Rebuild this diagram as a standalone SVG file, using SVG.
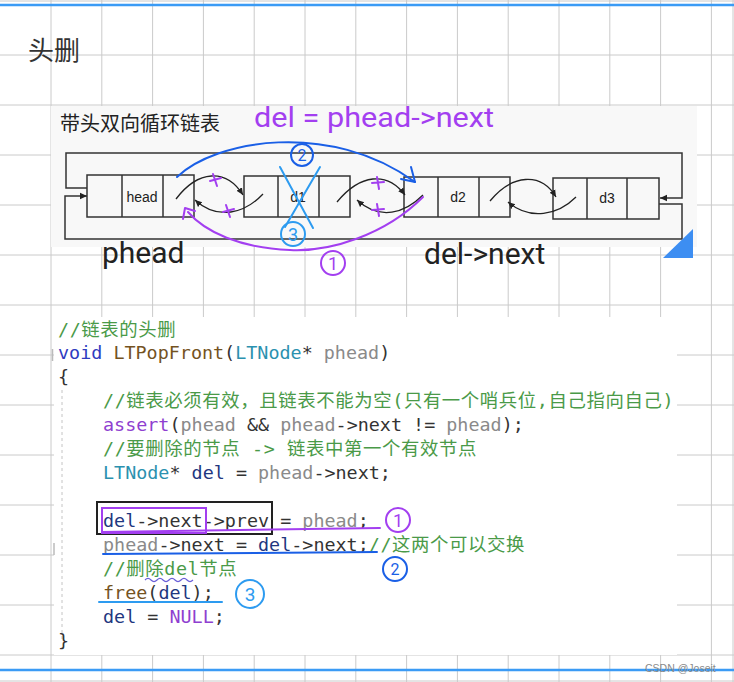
<svg xmlns="http://www.w3.org/2000/svg" width="734" height="682" viewBox="0 0 734 682">
<style>
.grid{stroke:#cacaca;stroke-width:1;fill:none}
.box{fill:none;stroke:#333;stroke-width:1.5}
.lbl{font-family:"Liberation Sans",Arial,sans-serif;font-size:14px;fill:#222;text-anchor:middle}
.link{fill:none;stroke:#222;stroke-width:1.3}
.loop{fill:none;stroke:#333;stroke-width:1.5}
.pur{stroke:#a33ff0;stroke-width:2;fill:none;stroke-linecap:round;stroke-linejoin:round}
.blu{stroke:#1a5fe6;stroke-width:2;fill:none;stroke-linecap:round;stroke-linejoin:round}
.lbl2{stroke:#2d9bf0;stroke-width:2;fill:none;stroke-linecap:round;stroke-linejoin:round}
.hand{font-family:Roboto,"Noto Sans",sans-serif}
.code{font-family:"DejaVu Sans Mono","Noto Sans CJK SC",monospace;font-size:18.4px;fill:#333;white-space:pre}
.cm{fill:#4a9a48;letter-spacing:0.6px}
.kw{fill:#2f3cc0}
.fn{fill:#74531f}
.ty{fill:#2b91af}
.pa{fill:#8a8a8a}
.lv{fill:#1f377f}
.mc{fill:#8f3fd0}
</style>
<defs>
<marker id="ah" markerWidth="8" markerHeight="8" refX="7" refY="4" orient="auto" markerUnits="userSpaceOnUse">
<path d="M0,0.8 L7,4 L0,7.2 Z" fill="#222"/>
</marker>
</defs>
<rect width="734" height="682" fill="#ffffff"/>
<g id="grid">
<path class="grid" d="M51,0V682M101.8,0V682M152.6,0V682M203.4,0V682M254.2,0V682M305,0V682M355.8,0V682M406.6,0V682M457.4,0V682M508.2,0V682M559,0V682M609.8,0V682M660.6,0V682M711.4,0V682M733,0V682"/>
<path class="grid" d="M0,55H734M0,105H734M0,155H734M0,205H734M0,255H734M0,305H734M0,355H734M0,405H734M0,455H734M0,505H734M0,555H734M0,605H734M0,655H734M0,1H734M0,681H734"/>
</g>
<line x1="0" y1="5" x2="734" y2="5" stroke="#3b9bf5" stroke-width="2.5"/>
<line x1="0" y1="670" x2="734" y2="670" stroke="#3b9bf5" stroke-width="2.5"/>
<text x="28" y="60" font-family="'Noto Sans CJK SC',sans-serif" font-size="26" fill="#333">头删</text>

<!-- diagram image -->
<rect x="51" y="106" width="646" height="141" fill="#f8f8f8"/>
<text x="60" y="131" font-family="'Noto Sans CJK SC',sans-serif" font-size="20" fill="#222">带头双向循环链表</text>

<g id="node-head">
<rect class="box" x="87" y="175" width="107" height="42"/>
<path class="box" d="M122,175V217M163,175V217"/>
<text class="lbl" x="142" y="202">head</text>
</g>
<g id="node-d1">
<rect class="box" x="244" y="176" width="106" height="41"/>
<path class="box" d="M278,176V217M319,176V217"/>
<text class="lbl" x="298" y="202">d1</text>
</g>
<g id="node-d2">
<rect class="box" x="404" y="177" width="106" height="40"/>
<path class="box" d="M438,177V217M479,177V217"/>
<text class="lbl" x="458" y="202">d2</text>
</g>
<g id="node-d3">
<rect class="box" x="553" y="178" width="106" height="41"/>
<path class="box" d="M587,178V219M627,178V219"/>
<text class="lbl" x="607" y="203">d3</text>
</g>

<g id="connectors">
<path class="loop" d="M87,188H66V153H682V198H660" marker-end="url(#ah)"/>
<path class="loop" d="M659,204H682V239H65V196H87" marker-end="url(#ah)"/>
<path class="link" d="M176,199C198,170 226,168 243,195" marker-end="url(#ah)"/>
<path class="link" d="M263,194C245,213 218,221 195,200" marker-end="url(#ah)"/>
<path class="link" d="M337,202C360,174 387,171 405,195" marker-end="url(#ah)"/>
<path class="link" d="M423,195C405,213 380,221 357,200" marker-end="url(#ah)"/>
<path class="link" d="M490,201C512,174 541,172 556,197" marker-end="url(#ah)"/>
<path class="link" d="M576,197C558,215 530,221 508,202" marker-end="url(#ah)"/>
</g>

<g id="annotations-diagram">
<text class="hand" x="254" y="127" font-size="28" fill="#a33ff0" textLength="240" lengthAdjust="spacingAndGlyphs">del = phead-&gt;next</text>
<!-- purple crosses -->
<path class="pur" d="M213,174L217,186M210,181L221,178"/>
<path class="pur" d="M226,205L230,217M223,212L234,209"/>
<path class="pur" d="M377,177L379,189M372,183L384,182"/>
<path class="pur" d="M377,204L379,216M372,210L384,209"/>
<!-- purple arc 1 -->
<path class="pur" d="M423,197C385,235 330,252 290,250C240,248 205,232 188,212"/>
<path class="pur" d="M183,219L185,208L195,211"/>
<circle class="pur" cx="333" cy="263" r="12"/>
<text class="hand" x="333" y="270" font-size="18" fill="#a33ff0" text-anchor="middle">1</text>
<!-- blue arc 2 -->
<path class="blu" d="M177,177C215,140 330,120 415,182"/>
<path class="blu" d="M401,179L415,182L411,167"/>
<circle class="blu" cx="302" cy="155" r="11"/>
<text class="hand" x="302" y="161" font-size="16" fill="#1a5fe6" text-anchor="middle">2</text>
<!-- light blue X 3 -->
<path class="lbl2" d="M280,167L313,228M320,167L285,227"/>
<circle class="lbl2" cx="293" cy="234" r="12"/>
<text class="hand" x="293" y="241" font-size="18" fill="#2d9bf0" text-anchor="middle">3</text>
<text class="hand" x="102" y="263" font-size="30" fill="#222">phead</text>
<text class="hand" x="424" y="264" font-size="30" fill="#222">del-&gt;next</text>
<path d="M693,229L693,258L663,258Z" fill="#3d8ef2"/>
</g>

<!-- code block -->
<rect x="54" y="317" width="623" height="338" fill="#ffffff"/>
<line x1="62" y1="390" x2="62" y2="640" stroke="#c4c4c4" stroke-width="1" stroke-dasharray="3 3"/>
<line x1="52.5" y1="349" x2="52.5" y2="361" stroke="#bbbbbb" stroke-width="1.5"/>
<line x1="54" y1="543" x2="54" y2="555" stroke="#bbbbbb" stroke-width="1.5"/>
<g id="code">
<text class="code cm" x="58" y="336">//链表的头删</text>
<text class="code" x="58" y="359"><tspan class="kw">void</tspan> <tspan class="fn">LTPopFront</tspan>(<tspan class="ty">LTNode</tspan>* <tspan class="pa">phead</tspan>)</text>
<text class="code" x="58" y="383">{</text>
<text class="code cm" x="103" y="407">//链表必须有效，且链表不能为空(只有一个哨兵位,自己指向自己)</text>
<text class="code" x="103" y="431"><tspan class="mc">assert</tspan>(<tspan class="pa">phead</tspan> &amp;&amp; <tspan class="pa">phead</tspan>-&gt;next != <tspan class="pa">phead</tspan>);</text>
<text class="code cm" x="103" y="455">//要删除的节点 -&gt; 链表中第一个有效节点</text>
<text class="code" x="103" y="479"><tspan class="ty">LTNode</tspan>* <tspan class="lv">del</tspan> = <tspan class="pa">phead</tspan>-&gt;next;</text>
<text class="code" x="103" y="527"><tspan class="lv">del</tspan>-&gt;next-&gt;prev = <tspan class="pa">phead</tspan>;</text>
<text class="code" x="103" y="551"><tspan class="pa">phead</tspan>-&gt;next = <tspan class="lv">del</tspan>-&gt;next;<tspan class="cm">//这两个可以交换</tspan></text>
<text class="code cm" x="103" y="575">//删除del节点</text>
<text class="code" x="103" y="599"><tspan class="fn">free</tspan>(<tspan class="lv">del</tspan>);</text>
<text class="code" x="103" y="623"><tspan class="lv">del</tspan> = <tspan class="mc">NULL</tspan>;</text>
<text class="code" x="58" y="647">}</text>
</g>
<g id="annotations-code">
<rect x="97" y="502" width="175" height="32" fill="none" stroke="#222" stroke-width="2"/>
<rect x="102" y="508" width="104" height="25" fill="none" stroke="#a33ff0" stroke-width="2"/>
<path class="pur" d="M102,532L380,528"/>
<circle class="pur" cx="398" cy="520" r="12"/>
<text class="hand" x="398" y="527" font-size="18" fill="#a33ff0" text-anchor="middle">1</text>
<path class="blu" d="M103,554L377,552"/>
<circle class="blu" cx="395" cy="569" r="12"/>
<text class="hand" x="395" y="575" font-size="16" fill="#1a5fe6" text-anchor="middle">2</text>
<path class="lbl2" d="M99,602L222,602"/>
<circle class="lbl2" cx="250" cy="594" r="14"/>
<text class="hand" x="250" y="601" font-size="19" fill="#2d9bf0" text-anchor="middle">3</text>
<path d="M145,580q3,-3 6,0t6,0t6,0t6,0t6,0t6,0t6,0t6,0" fill="none" stroke="#6a5fd8" stroke-width="1.2"/>
</g>
<text x="645" y="672" font-family="'Liberation Sans',Arial,sans-serif" font-size="10.5" fill="#8a8a8a">CSDN @Joseit</text>
</svg>
